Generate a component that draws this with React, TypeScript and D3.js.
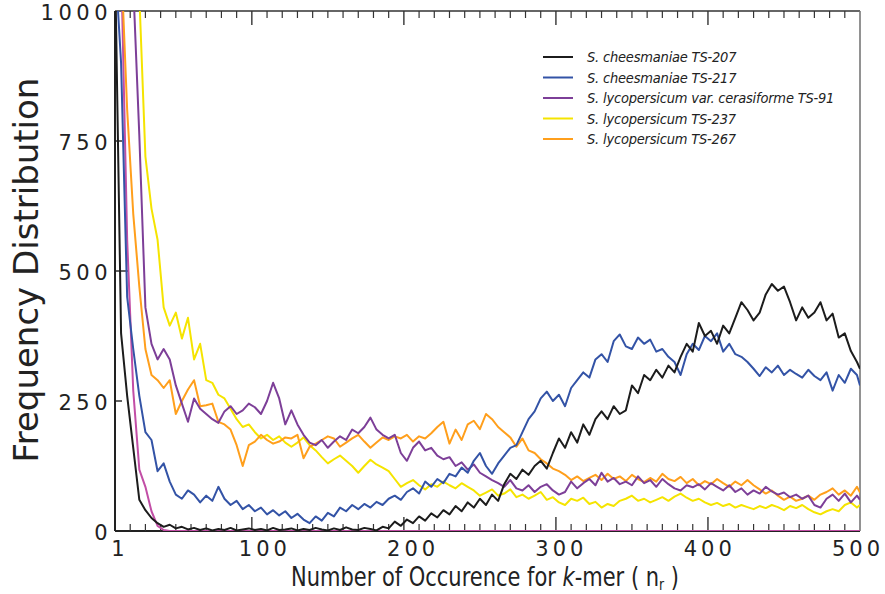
import React from 'react';
import * as d3 from 'd3';

// k-mer occurrence grid (x values)
const occurrence = d3.range(10, 500, 4).concat([500]);

// frequency values, one per occurrence step
const ts207 = [
  1100, 380, 260, 160, 60, 40, 25, 15, 8, 12,
  5, 8, 3, 6, 2, 5, 1, 4, 2, 6,
  1, 3, 5, 2, 4, 1, 6, 2, 3, 5,
  1, 4, 2, 6, 3, 1, 5, 2, 7, 3,
  2, 6, 4, 1, 8, 5, 18, 10, 22, 15,
  28, 20, 34, 26, 40, 32, 48, 38, 55, 45,
  62, 50, 70, 58, 90, 110, 100, 118, 108, 125,
  135, 120, 150, 178, 160, 190, 170, 205, 185, 215,
  230, 215, 240, 225, 232, 280, 265, 300, 290, 310,
  295, 318, 305, 335, 360, 345, 400, 375, 385, 360,
  395, 380, 410, 440, 425, 405, 420, 455, 475, 462,
  470, 440, 405, 430, 410, 420, 440, 405, 418, 372,
  380, 346, 325, 312,
];
const ts217 = [
  1100, 900, 450, 350, 260, 190, 175, 115, 130, 95,
  70, 62, 78, 70, 55, 68, 58, 85, 62, 50,
  58, 42, 50, 38, 45, 32, 40, 30, 38, 25,
  33, 22, 15, 28, 20, 35, 28, 45, 38, 50,
  42, 52, 45, 56, 50, 62, 68, 60, 75, 82,
  72, 95, 85, 100, 92, 110, 105, 122, 112, 135,
  150, 125, 110, 130, 145, 160, 165, 190, 215, 230,
  255, 268, 250, 262, 240, 275, 290, 305, 295, 330,
  340, 325, 365, 378, 355, 350, 372, 360, 368, 345,
  350, 335, 325, 300, 340, 360, 348, 375, 365, 380,
  345, 360, 340, 335, 325, 312, 298, 315, 305, 318,
  300, 310, 302, 295, 310, 298, 290, 305, 270, 300,
  285, 312, 300, 280,
];
const ts91 = [
  1100, 1100, 1100, 1050, 760, 430, 360, 330, 350, 330,
  280, 245, 210, 255, 235, 225, 215, 208, 230, 240,
  225, 232, 245, 238, 225, 250, 285, 255, 205, 232,
  205, 185, 170, 165, 175, 160, 172, 182, 175, 195,
  188, 200, 218, 195, 185, 178, 185, 150, 135, 160,
  172, 155, 160, 145, 138, 142, 125, 132, 118, 128,
  112, 105, 98, 92, 85, 98, 82, 78, 88, 75,
  85, 90, 78, 70, 75, 95, 82, 92, 100, 88,
  112, 95, 102, 90, 95, 88, 105, 92, 98, 85,
  100, 90, 82, 78, 88, 84, 90, 80, 92, 85,
  78, 88, 75, 82, 70, 78, 72, 85, 76, 70,
  74, 65, 70, 62, 68, 50, 45, 62, 70, 58,
  72, 55, 68, 60,
];
const ts237 = [
  1100, 1100, 1100, 1100, 1030, 720, 620, 560, 430, 395,
  420, 370, 410, 330, 360, 290, 285, 262, 255, 235,
  215, 200, 205, 190, 178, 185, 175, 182, 170, 162,
  170, 180, 165, 155, 142, 130, 138, 145, 135, 125,
  112, 125, 137, 128, 122, 115, 100, 85, 92, 98,
  88, 80, 90, 85, 95, 88, 82, 92, 85, 78,
  68, 74, 80, 68, 72, 80, 65, 70, 62, 68,
  75, 60, 65, 55, 50, 62, 58, 64, 52, 56,
  45, 52, 48, 58, 62, 68, 58, 62, 55, 60,
  65, 58, 66, 72, 64, 58, 62, 55, 50, 54,
  48, 52, 45, 50, 46, 42, 48, 44, 50, 46,
  40, 48, 44, 50, 42, 36, 32, 38, 42, 38,
  50, 55, 45, 50,
];
const ts267 = [
  1100, 1100, 810, 610, 470, 350, 300, 290, 275, 290,
  225, 250, 272, 290, 240, 242, 245, 210, 205, 195,
  165, 125, 165, 172, 185, 175, 168, 172, 180, 178,
  185, 140, 162, 168, 175, 182, 178, 162, 170, 178,
  185, 172, 160, 170, 180, 175, 182, 178, 185, 172,
  182, 178, 188, 200, 210, 168, 195, 175, 205, 212,
  196, 225, 215, 200, 190, 180, 162, 178, 155, 150,
  138, 130, 120, 115, 108, 98, 105, 96, 102, 108,
  98, 110, 100, 105, 96, 108, 100, 94, 102, 95,
  110, 100, 96, 104, 92, 100, 88, 96, 90, 100,
  92, 85, 95, 88, 98, 88, 80, 72, 78, 68,
  60, 66, 58, 62, 68, 60, 70, 75, 82, 70,
  78, 68, 85, 74,
];
// unlabelled series that falls to zero
const extra = [
  1100, 1100, 560, 270, 118, 85, 38, 10, 2, 0,
  0, 0, 0, 0, 0, 0, 0, 0, 0, 0,
  0, 0, 0, 0, 0, 0, 0, 0, 0, 0,
  0, 0, 0, 0, 0, 0, 0, 0, 0, 0,
  0, 0, 0, 0, 0, 0, 0, 0, 0, 0,
  0, 0, 0, 0, 0, 0, 0, 0, 0, 0,
  0, 0, 0, 0, 0, 0, 0, 0, 0, 0,
  0, 0, 0, 0, 0, 0, 0, 0, 0, 0,
  0, 0, 0, 0, 0, 0, 0, 0, 0, 0,
  0, 0, 0, 0, 0, 0, 0, 0, 0, 0,
  0, 0, 0, 0, 0, 0, 0, 0, 0, 0,
  0, 0, 0, 0, 0, 0, 0, 0, 0, 0,
  0, 0, 0, 0,
];

const legendNames = [
  'S. cheesmaniae TS-207',
  'S. cheesmaniae TS-217',
  'S. lycopersicum var. cerasiforme TS-91',
  'S. lycopersicum TS-237',
  'S. lycopersicum TS-267',
];
const legendColors = ['#1c1c1c', '#3353a6', '#7d3f98', '#f5e400', '#ff9f1c'];
const yTicks = [0, 250, 500, 750, 1000];
const xTickLabels = [100, 200, 300, 400, 500];

const tickFont = "'DejaVu Sans', sans-serif";

export default function App() {
  const x = d3.scaleLinear().domain([10, 500]).range([115, 860]);
  const y = d3.scaleLinear().domain([0, 1000]).range([531, 11]);
  // printed labels drift slightly from their ticks in the original
  const labelX = d3.scaleLinear().domain([100, 500]).range([x(100) + 11, x(500) - 4]);

  const line = d3.line<number>()
    .x((_, i) => x(occurrence[i]))
    .y(d => y(d));

  const drawn = [
    { values: extra, color: '#c24ea6' },
    { values: ts237, color: legendColors[3] },
    { values: ts267, color: legendColors[4] },
    { values: ts91, color: legendColors[2] },
    { values: ts217, color: legendColors[1] },
    { values: ts207, color: legendColors[0] },
  ];

  const minor = d3.range(20, 500, 10).filter(d => d % 100 !== 0);
  const major = [100, 200, 300, 400];
  const [x0, x1] = x.range();
  const [yb, yt] = y.range();

  return (
    <svg width={885} height={594} style={{ position: 'absolute', left: 0, top: 0, background: '#fff' }}>
      <defs>
        <clipPath id="plot">
          <rect x={x0} y={yt} width={x1 - x0} height={yb - yt} />
        </clipPath>
      </defs>

      {/* frame */}
      <line x1={x0} x2={x1} y1={yt} y2={yt} stroke="#333" strokeWidth={1.6} />
      <line x1={x1} x2={x1} y1={yt} y2={yb} stroke="#777" strokeWidth={1.6} />
      <line x1={x0} x2={x0} y1={yt} y2={yb} stroke="#222" strokeWidth={2} />
      <line x1={x0} x2={x1} y1={yb} y2={yb} stroke="#222" strokeWidth={2} />

      {/* ticks */}
      {minor.map(d => (
        <g key={'mi' + d}>
          <line x1={x(d)} x2={x(d)} y1={yb} y2={yb - 7} stroke="#333" strokeWidth={1.2} />
          <line x1={x(d)} x2={x(d)} y1={yt} y2={yt + 7} stroke="#333" strokeWidth={1.2} />
        </g>
      ))}
      {major.map(d => (
        <g key={'ma' + d}>
          <line x1={x(d)} x2={x(d)} y1={yb} y2={yb - 14} stroke="#333" strokeWidth={1.4} />
          <line x1={x(d)} x2={x(d)} y1={yt} y2={yt + 14} stroke="#333" strokeWidth={1.4} />
        </g>
      ))}
      {[250, 500, 750].map(d => (
        <line key={'yt' + d} x1={x0} x2={x0 + (d === 500 ? 14 : 7)} y1={y(d)} y2={y(d)} stroke="#222" strokeWidth={1.4} />
      ))}

      {/* series */}
      <g clipPath="url(#plot)" fill="none" strokeWidth={2} strokeLinejoin="round">
        {drawn.map((s, i) => (
          <path key={i} d={line(s.values) || ''} stroke={s.color} />
        ))}
      </g>

      {/* y tick labels */}
      {yTicks.map(d => (
        <text key={'yl' + d} x={112} y={y(d) + 2} textAnchor="end" dominantBaseline="central"
          fontFamily={tickFont} fontSize={21} letterSpacing={4.5} fill="#222">{d}</text>
      ))}

      {/* x tick labels */}
      <text x={x(10) + 5} y={556} textAnchor="middle" fontFamily={tickFont} fontSize={21}
        letterSpacing={4} fill="#222">1</text>
      {xTickLabels.map(d => (
        <text key={'xl' + d} x={labelX(d) + 2} y={556} textAnchor="middle" fontFamily={tickFont}
          fontSize={21} letterSpacing={4} fill="#222">{d}</text>
      ))}

      {/* axis titles */}
      <text transform="translate(38,270) rotate(-90)" textAnchor="middle" fontFamily={tickFont}
        fontSize={34} fill="#222">Frequency Distribution</text>
      <text x={291} y={586} fontFamily={tickFont} fontStretch="condensed"
        fontSize={27} fill="#222" textLength={388} lengthAdjust="spacingAndGlyphs">
        Number of Occurence for <tspan fontStyle="italic">k</tspan>-mer ( n<tspan fontSize={16} dy={4}>r</tspan><tspan dy={-4}> )</tspan>
      </text>

      {/* legend */}
      {legendNames.map((name, i) => {
        const ly = 57 + i * 20.5;
        return (
          <g key={name}>
            <line x1={543} x2={573} y1={ly} y2={ly} stroke={legendColors[i]} strokeWidth={2} />
            <text x={587} y={ly} dominantBaseline="central" fontFamily={tickFont} fontStretch="condensed"
              fontStyle="italic" fontSize={14.5} letterSpacing={-0.2} fill="#222">{name}</text>
          </g>
        );
      })}
    </svg>
  );
}
